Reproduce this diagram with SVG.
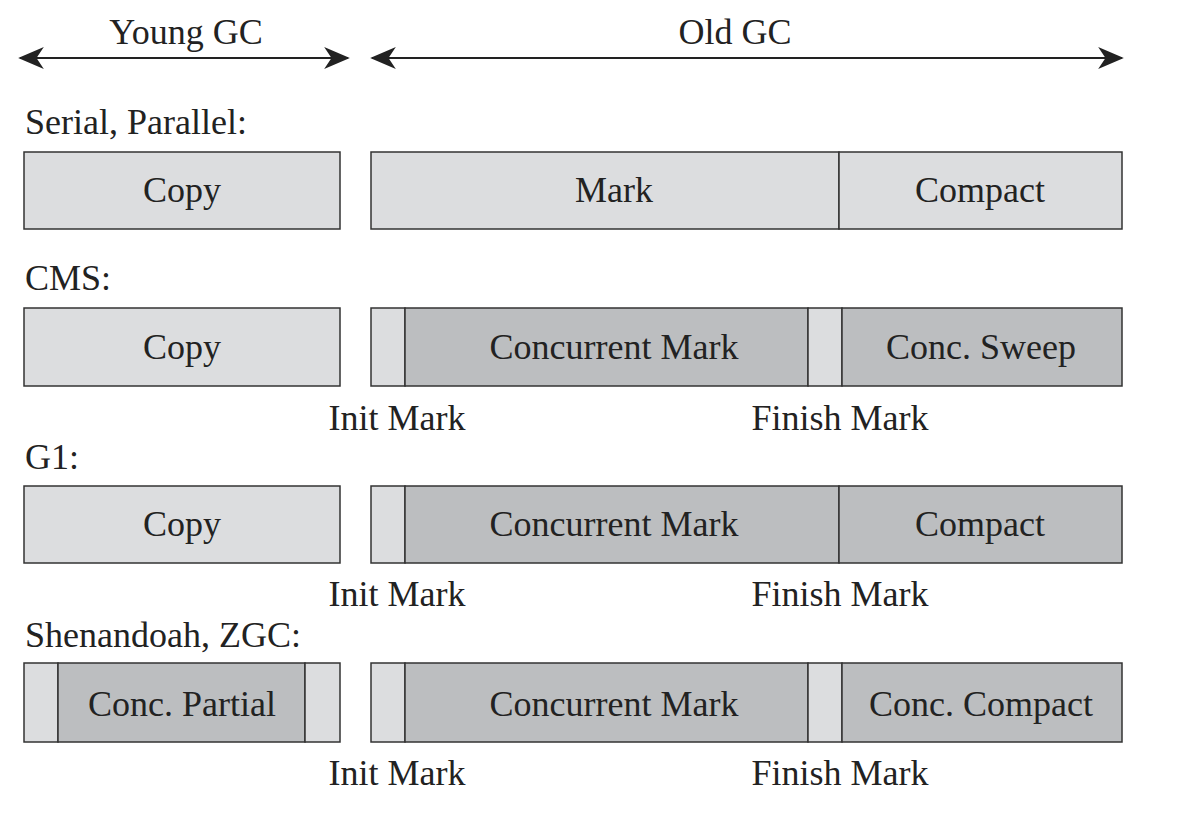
<svg xmlns="http://www.w3.org/2000/svg" width="1193" height="814" viewBox="0 0 1193 814">
<style>
text{font-family:"Liberation Serif","Times New Roman",serif;font-size:36px;fill:#222}
.c{text-anchor:middle}
.l{fill:#dcdddf;stroke:#333;stroke-width:1.5}
.d{fill:#bcbec0;stroke:#333;stroke-width:1.5}
</style>
<defs><marker id="a" viewBox="0 0 10 10" refX="9" refY="5" markerWidth="10" markerHeight="10" markerUnits="userSpaceOnUse" orient="auto-start-reverse"><path d="M0,0 L10,5 L0,10 L3,5Z" fill="#222"/></marker>
<marker id="b" viewBox="0 0 14 12" refX="13" refY="6" markerWidth="26" markerHeight="22" markerUnits="userSpaceOnUse" orient="auto-start-reverse"><path d="M0,0 L14,6 L0,12 L4,6Z" fill="#222"/></marker></defs>
<g id="connectors">
<line x1="20" y1="58" x2="348" y2="58" stroke="#222" stroke-width="2" marker-start="url(#b)" marker-end="url(#b)"/>
<line x1="372" y1="58" x2="1122" y2="58" stroke="#222" stroke-width="2" marker-start="url(#b)" marker-end="url(#b)"/>
</g>
<text class="c" x="186" y="44">Young GC</text>
<text class="c" x="735" y="44">Old GC</text>
<text x="25" y="134">Serial, Parallel:</text>
<text x="25" y="290">CMS:</text>
<text x="25" y="469">G1:</text>
<text x="25" y="647">Shenandoah, ZGC:</text>
<g id="serial">
<rect class="l" x="24" y="152" width="316" height="77"/><text class="c" x="182" y="202">Copy</text>
<rect class="l" x="371" y="152" width="468" height="77"/><text class="c" x="614" y="202">Mark</text>
<rect class="l" x="839" y="152" width="283" height="77"/><text class="c" x="980" y="202">Compact</text>
</g>
<g id="cms">
<rect class="l" x="24" y="308" width="316" height="78"/><text class="c" x="182" y="359">Copy</text>
<rect class="l" x="371" y="308" width="34" height="78"/>
<rect class="d" x="405" y="308" width="403" height="78"/><text class="c" x="614" y="359">Concurrent Mark</text>
<rect class="l" x="808" y="308" width="34" height="78"/>
<rect class="d" x="842" y="308" width="280" height="78"/><text class="c" x="981" y="359">Conc. Sweep</text>
<text class="c" x="397" y="430">Init Mark</text><text class="c" x="840" y="430">Finish Mark</text>
</g>
<g id="g1">
<rect class="l" x="24" y="486" width="316" height="77"/><text class="c" x="182" y="536">Copy</text>
<rect class="l" x="371" y="486" width="34" height="77"/>
<rect class="d" x="405" y="486" width="434" height="77"/><text class="c" x="614" y="536">Concurrent Mark</text>
<rect class="d" x="839" y="486" width="283" height="77"/><text class="c" x="980" y="536">Compact</text>
<text class="c" x="397" y="606">Init Mark</text><text class="c" x="840" y="606">Finish Mark</text>
</g>
<g id="shen">
<rect class="l" x="24" y="663" width="34" height="79"/>
<rect class="d" x="58" y="663" width="247" height="79"/><text class="c" x="182" y="716">Conc. Partial</text>
<rect class="l" x="305" y="663" width="35" height="79"/>
<rect class="l" x="371" y="663" width="34" height="79"/>
<rect class="d" x="405" y="663" width="403" height="79"/><text class="c" x="614" y="716">Concurrent Mark</text>
<rect class="l" x="808" y="663" width="34" height="79"/>
<rect class="d" x="842" y="663" width="280" height="79"/><text class="c" x="981" y="716">Conc. Compact</text>
<text class="c" x="397" y="785">Init Mark</text><text class="c" x="840" y="785">Finish Mark</text>
</g>
</svg>
